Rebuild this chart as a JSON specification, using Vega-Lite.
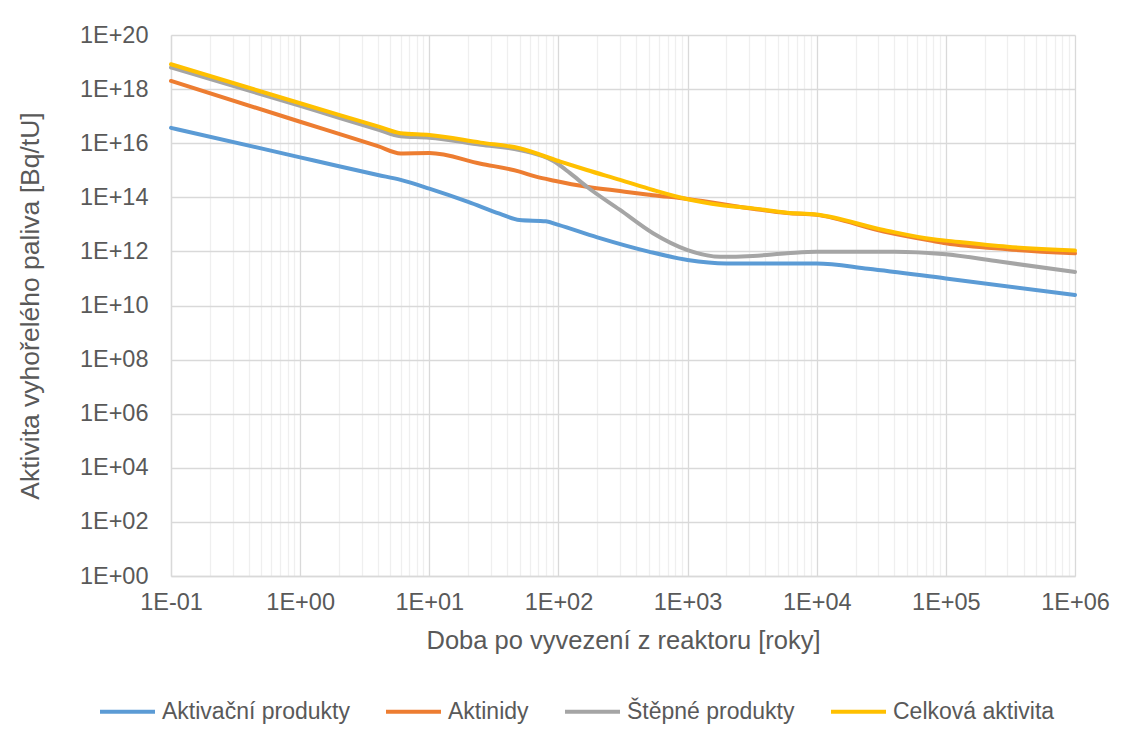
{
  "$schema": "https://vega.github.io/schema/vega-lite/v6.json",
  "width": 904,
  "height": 541,
  "autosize": {"type": "none"},
  "padding": {"left": 171, "top": 35, "right": 60, "bottom": 166},
  "background": "#ffffff",
  "config": {
    "font": "Liberation Sans",
    "view": {"stroke": null},
    "axis": {
      "labelFont": "Liberation Sans",
      "titleFont": "Liberation Sans",
      "labelColor": "#595959",
      "titleColor": "#595959",
      "labelFontSize": 23.5,
      "titleFontSize": 25.5,
      "titleFontWeight": "normal",
      "ticks": false,
      "tickSize": 0,
      "domainColor": "#D9D9D9",
      "domainWidth": 1.3,
      "labelFlush": false,
      "labelOverlap": false
    },
    "legend": {
      "labelFont": "Liberation Sans",
      "labelFontSize": 23,
      "labelColor": "#595959",
      "labelLimit": 0
    }
  },
  "data": {
    "values": [
      {"serie": "Aktivační produkty", "t": 0.1, "a": 3.7e16},
      {"serie": "Aktivační produkty", "t": 1, "a": 3.0e15},
      {"serie": "Aktivační produkty", "t": 2, "a": 1.4e15},
      {"serie": "Aktivační produkty", "t": 4, "a": 6.7e14},
      {"serie": "Aktivační produkty", "t": 6, "a": 4.4e14},
      {"serie": "Aktivační produkty", "t": 10, "a": 2.1e14},
      {"serie": "Aktivační produkty", "t": 20, "a": 6.8e13},
      {"serie": "Aktivační produkty", "t": 35, "a": 2.5e13},
      {"serie": "Aktivační produkty", "t": 50, "a": 1.45e13},
      {"serie": "Aktivační produkty", "t": 80, "a": 1.3e13},
      {"serie": "Aktivační produkty", "t": 100, "a": 9.5e12},
      {"serie": "Aktivační produkty", "t": 200, "a": 3.3e12},
      {"serie": "Aktivační produkty", "t": 500, "a": 9.8e11},
      {"serie": "Aktivační produkty", "t": 1000, "a": 4.8e11},
      {"serie": "Aktivační produkty", "t": 2000, "a": 3.6e11},
      {"serie": "Aktivační produkty", "t": 10000, "a": 3.6e11},
      {"serie": "Aktivační produkty", "t": 25000, "a": 2.3e11},
      {"serie": "Aktivační produkty", "t": 100000, "a": 1.0e11},
      {"serie": "Aktivační produkty", "t": 1000000, "a": 2.45e10},

      {"serie": "Aktinidy", "t": 0.1, "a": 2.0e18},
      {"serie": "Aktinidy", "t": 1, "a": 6.2e16},
      {"serie": "Aktinidy", "t": 2, "a": 2.2e16},
      {"serie": "Aktinidy", "t": 4, "a": 7.8e15},
      {"serie": "Aktinidy", "t": 6, "a": 4.2e15},
      {"serie": "Aktinidy", "t": 10, "a": 4.3e15},
      {"serie": "Aktinidy", "t": 25, "a": 1.75e15},
      {"serie": "Aktinidy", "t": 50, "a": 8.9e14},
      {"serie": "Aktinidy", "t": 67, "a": 5.8e14},
      {"serie": "Aktinidy", "t": 93, "a": 4.1e14},
      {"serie": "Aktinidy", "t": 166, "a": 2.45e14},
      {"serie": "Aktinidy", "t": 300, "a": 1.7e14},
      {"serie": "Aktinidy", "t": 540, "a": 1.2e14},
      {"serie": "Aktinidy", "t": 1000, "a": 8.7e13},
      {"serie": "Aktinidy", "t": 3200, "a": 3.8e13},
      {"serie": "Aktinidy", "t": 5900, "a": 2.63e13},
      {"serie": "Aktinidy", "t": 10000, "a": 2.24e13},
      {"serie": "Aktinidy", "t": 33000, "a": 5.4e12},
      {"serie": "Aktinidy", "t": 80000, "a": 2.4e12},
      {"serie": "Aktinidy", "t": 100000, "a": 2.0e12},
      {"serie": "Aktinidy", "t": 300000, "a": 1.2e12},
      {"serie": "Aktinidy", "t": 1000000, "a": 8.5e11},

      {"serie": "Štěpné produkty", "t": 0.1, "a": 6.3e18},
      {"serie": "Štěpné produkty", "t": 1, "a": 2.4e17},
      {"serie": "Štěpné produkty", "t": 2, "a": 8.7e16},
      {"serie": "Štěpné produkty", "t": 4, "a": 3.2e16},
      {"serie": "Štěpné produkty", "t": 6, "a": 1.8e16},
      {"serie": "Štěpné produkty", "t": 10, "a": 1.6e16},
      {"serie": "Štěpné produkty", "t": 25, "a": 8.7e15},
      {"serie": "Štěpné produkty", "t": 50, "a": 5.6e15},
      {"serie": "Štěpné produkty", "t": 93, "a": 2.1e15},
      {"serie": "Štěpné produkty", "t": 123, "a": 7.8e14},
      {"serie": "Štěpné produkty", "t": 166, "a": 2.45e14},
      {"serie": "Štěpné produkty", "t": 300, "a": 3.4e13},
      {"serie": "Štěpné produkty", "t": 540, "a": 4.7e12},
      {"serie": "Štěpné produkty", "t": 1000, "a": 1.12e12},
      {"serie": "Štěpné produkty", "t": 1800, "a": 6.3e11},
      {"serie": "Štěpné produkty", "t": 3200, "a": 6.8e11},
      {"serie": "Štěpné produkty", "t": 5900, "a": 8.5e11},
      {"serie": "Štěpné produkty", "t": 10000, "a": 9.8e11},
      {"serie": "Štěpné produkty", "t": 40000, "a": 9.8e11},
      {"serie": "Štěpné produkty", "t": 100000, "a": 7.8e11},
      {"serie": "Štěpné produkty", "t": 260000, "a": 4.2e11},
      {"serie": "Štěpné produkty", "t": 1000000, "a": 1.74e11},

      {"serie": "Celková aktivita", "t": 0.1, "a": 8.3e18},
      {"serie": "Celková aktivita", "t": 1, "a": 3.0e17},
      {"serie": "Celková aktivita", "t": 2, "a": 1.12e17},
      {"serie": "Celková aktivita", "t": 4, "a": 4.2e16},
      {"serie": "Celková aktivita", "t": 6, "a": 2.34e16},
      {"serie": "Celková aktivita", "t": 10, "a": 2.0e16},
      {"serie": "Celková aktivita", "t": 25, "a": 1.05e16},
      {"serie": "Celková aktivita", "t": 50, "a": 6.5e15},
      {"serie": "Celková aktivita", "t": 100, "a": 2.2e15},
      {"serie": "Celková aktivita", "t": 166, "a": 1.02e15},
      {"serie": "Celková aktivita", "t": 300, "a": 4.4e14},
      {"serie": "Celková aktivita", "t": 540, "a": 1.86e14},
      {"serie": "Celková aktivita", "t": 1000, "a": 8.5e13},
      {"serie": "Celková aktivita", "t": 1800, "a": 5.2e13},
      {"serie": "Celková aktivita", "t": 3200, "a": 3.9e13},
      {"serie": "Celková aktivita", "t": 5900, "a": 2.7e13},
      {"serie": "Celková aktivita", "t": 10000, "a": 2.3e13},
      {"serie": "Celková aktivita", "t": 33000, "a": 6.2e12},
      {"serie": "Celková aktivita", "t": 80000, "a": 2.8e12},
      {"serie": "Celková aktivita", "t": 100000, "a": 2.5e12},
      {"serie": "Celková aktivita", "t": 300000, "a": 1.48e12},
      {"serie": "Celková aktivita", "t": 1000000, "a": 1.07e12}
    ]
  },
  "mark": {"type": "line", "interpolate": "monotone", "strokeWidth": 4, "strokeCap": "round", "strokeJoin": "round"},
  "encoding": {
    "x": {
      "field": "t",
      "type": "quantitative",
      "scale": {"type": "log", "domain": [0.1, 1000000], "nice": false},
      "axis": {
        "title": "Doba po vyvezení z reaktoru [roky]",
        "values": [0.1, 0.2, 0.3, 0.4, 0.5, 0.6, 0.7, 0.8, 0.9, 1, 2, 3, 4, 5, 6, 7, 8, 9, 10, 20, 30, 40, 50, 60, 70, 80, 90, 100, 200, 300, 400, 500, 600, 700, 800, 900, 1000, 2000, 3000, 4000, 5000, 6000, 7000, 8000, 9000, 10000, 20000, 30000, 40000, 50000, 60000, 70000, 80000, 90000, 100000, 200000, 300000, 400000, 500000, 600000, 700000, 800000, 900000, 1000000],
        "labelExpr": "abs(datum.value / pow(10, round(log(datum.value) / LN10)) - 1) < 1e-6 ? ('1E' + (round(log(datum.value) / LN10) < 0 ? '-' : '+') + (abs(round(log(datum.value) / LN10)) < 10 ? '0' : '') + abs(round(log(datum.value) / LN10))) : ''",
        "grid": true,
        "gridColor": {"condition": {"test": "abs(datum.value / pow(10, round(log(datum.value) / LN10)) - 1) < 1e-6", "value": "#D9D9D9"}, "value": "#EFEFEF"},
        "gridWidth": 1.3,
        "labelPadding": 14,
        "titlePadding": 15
      }
    },
    "y": {
      "field": "a",
      "type": "quantitative",
      "scale": {"type": "log", "domain": [1, 1e20], "nice": false},
      "axis": {
        "title": "Aktivita vyhořelého paliva [Bq/tU]",
        "titleFontSize": 26.5,
        "values": [1, 1e2, 1e4, 1e6, 1e8, 1e10, 1e12, 1e14, 1e16, 1e18, 1e20],
        "labelExpr": "'1E+' + (round(log(datum.value) / LN10) < 10 ? '0' : '') + round(log(datum.value) / LN10)",
        "grid": true,
        "gridColor": "#D9D9D9",
        "gridWidth": 1.3,
        "labelPadding": 23,
        "titlePadding": 35
      }
    },
    "color": {
      "field": "serie",
      "type": "nominal",
      "sort": null,
      "scale": {
        "domain": ["Aktivační produkty", "Aktinidy", "Štěpné produkty", "Celková aktivita"],
        "range": ["#5B9BD5", "#ED7D31", "#A5A5A5", "#FFC000"]
      },
      "legend": {
        "title": null,
        "orient": "none",
        "direction": "horizontal",
        "legendX": -73,
        "legendY": 647,
        "symbolType": "stroke",
        "symbolSize": 3025,
        "symbolStrokeWidth": 4,
        "labelOffset": 5,
        "columnPadding": 28,
        "padding": 0
      }
    }
  }
}
